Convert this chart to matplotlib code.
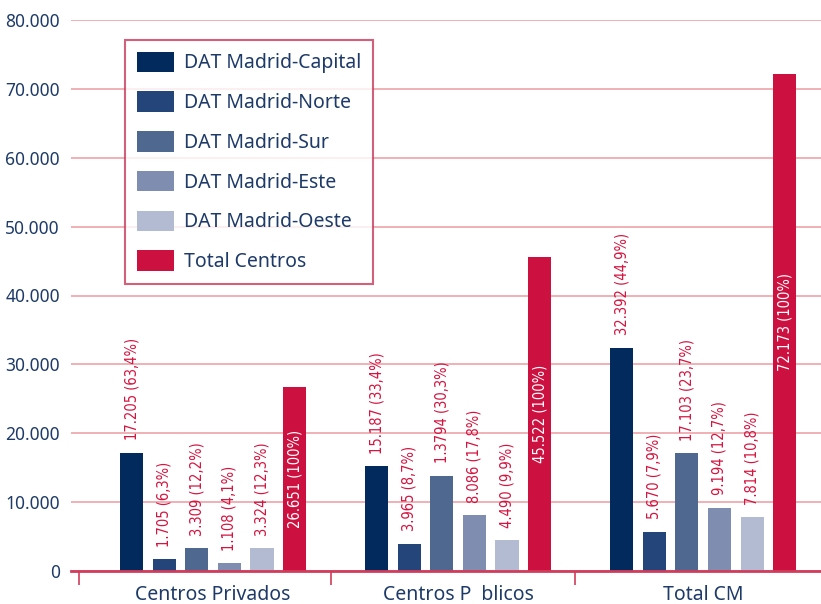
import matplotlib
matplotlib.use("Agg")
import matplotlib.pyplot as plt
import numpy as np
from matplotlib.ticker import FuncFormatter

categories = ["Centros Privados", "Centros P  blicos", "Total CM"]
series = ["DAT Madrid-Capital", "DAT Madrid-Norte", "DAT Madrid-Sur",
          "DAT Madrid-Este", "DAT Madrid-Oeste", "Total Centros"]
capital = [17205, 15187, 32392]
norte = [1705, 3965, 5670]
sur = [3309, 13794, 17103]
este = [1108, 8086, 9194]
oeste = [3324, 4490, 7814]
total = [26651, 45522, 72173]

capital_lbl = ["17.205 (63,4%)", "15.187 (33,4%)", "32.392 (44,9%)"]
norte_lbl = ["1.705 (6,3%)", "3.965 (8,7%)", "5.670 (7,9%)"]
sur_lbl = ["3.309 (12,2%)", "1.3794 (30,3%)", "17.103 (23,7%)"]
este_lbl = ["1.108 (4,1%)", "8.086 (17,8%)", "9.194 (12,7%)"]
oeste_lbl = ["3.324 (12,3%)", "4.490 (9,9%)", "7.814 (10,8%)"]
total_lbl = ["26.651 (100%)", "45.522 (100%)", "72.173 (100%)"]

yticks = [0, 10000, 20000, 30000, 40000, 50000, 60000, 70000, 80000]

colors = ["#032a5c", "#23457a", "#4f6890", "#7f8db0", "#b3bbd3", "#cc103f"]
navy = "#1d3a68"
red = "#d4143f"
FONT = "Noto Sans"

values = [capital, norte, sur, este, oeste, total]
labels = [capital_lbl, norte_lbl, sur_lbl, este_lbl, oeste_lbl, total_lbl]

W, H = 821, 604
fig = plt.figure(figsize=(W / 100, H / 100), dpi=100)
ax = fig.add_axes([71 / W, 1 - 571 / H, 750 / W, (571 - 20) / H])

x = np.arange(len(categories))
step = 0.133
width = 0.094
for i, (vals, lbls, c, name) in enumerate(zip(values, labels, colors, series)):
    pos = x + (i - 2.5) * step
    bars = ax.bar(pos, vals, width=width, color=c, label=name, zorder=3)
    for b, v, t in zip(bars, vals, lbls):
        if i == 5:
            ax.text(b.get_x() + b.get_width() / 2, v / 2, t, rotation=90,
                    ha="center", va="center", color="white", fontsize=10.5,
                    family="DejaVu Sans", fontstretch="condensed",
                    fontweight="medium", zorder=4)
        else:
            ax.annotate(t, (b.get_x() + b.get_width() / 2, v), xytext=(0, 9),
                        textcoords="offset points", rotation=90, ha="center",
                        va="bottom", color=red, fontsize=10.5,
                        family="DejaVu Sans", fontstretch="condensed",
                        fontweight="medium", zorder=4)

ax.set_xlim(-0.58, 2.481)
ax.set_ylim(0, 80000)
ax.set_yticks(yticks)
ax.yaxis.set_major_formatter(FuncFormatter(lambda v, p: f"{int(v):,}".replace(",", ".")))
ax.tick_params(axis="y", length=0, pad=8, labelsize=12.5, labelcolor=navy)
for lab in ax.get_yticklabels():
    lab.set_family(FONT)
ax.grid(axis="y", color="#eda3a8", linewidth=1.2, zorder=0)

ax.set_xticks(x)
ax.set_xticklabels(categories, family=FONT, fontsize=14, color=navy)
ax.tick_params(axis="x", length=0, pad=10)
ax.set_xticks([-0.547, 0.482, 1.478], minor=True)
ax.tick_params(axis="x", which="minor", length=10, color="#d23c5c", width=1.2)

for s in ["top", "right", "left"]:
    ax.spines[s].set_visible(False)
ax.spines["bottom"].set_color("#d23c5c")
ax.spines["bottom"].set_linewidth(2)
ax.spines["bottom"].set_zorder(5)

leg = ax.legend(loc="upper left", bbox_to_anchor=(125 / W, 1 - 40 / H),
                bbox_transform=fig.transFigure, frameon=True, fancybox=False,
                prop={"family": FONT, "size": 14}, handlelength=1.9,
                handleheight=1.25, labelspacing=0.92, handletextpad=0.55,
                borderpad=0.6, borderaxespad=0)
leg.get_frame().set_edgecolor("#c8385a")
leg.get_frame().set_linewidth(1.5)
for t in leg.get_texts():
    t.set_color(navy)

fig.savefig("out.png", dpi=100)
